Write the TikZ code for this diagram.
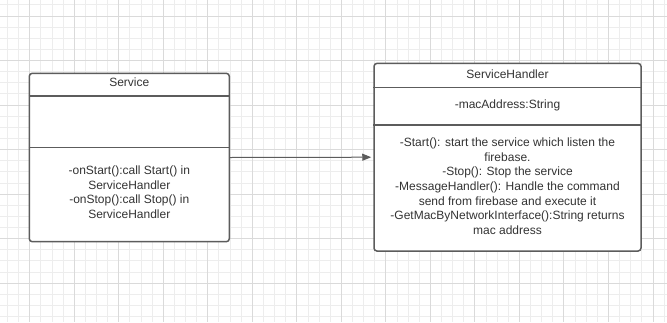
\documentclass[tikz,border=0pt]{standalone}
\usepackage{fontspec}
\setmainfont{Liberation Sans}
\usepackage{tikz}
\usetikzlibrary{arrows.meta}
\usetikzlibrary{calc}

\definecolor{boxline}{HTML}{5C5C5C}
\definecolor{boxtext}{HTML}{333333}
\definecolor{gridminor}{HTML}{EDEDED}
\definecolor{gridmajor}{HTML}{DADADA}

\begin{document}
\begin{tikzpicture}[
    x=1pt, y=-1pt,
    >=Stealth,
    umlbox/.style={draw=boxline, line width=1.5pt, fill=white, rounded corners=3pt, inner sep=0pt},
    divider/.style={draw=boxline, line width=1.5pt},
    umltext/.style={text=boxtext, font=\fontsize{12}{14.6}\selectfont, align=center, inner sep=0pt},
    assoc/.style={->, draw=boxline, line width=1pt, shorten >=2pt, >={Triangle[length=9pt, width=7pt]}}
]

% --- Background grid ---
\fill[white] (0,0) rectangle (667,322);
\useasboundingbox (0,0) rectangle (667,322);
\foreach \i in {0,...,59} {
    \draw[gridminor, line width=0.9pt] (7.44+11.13*\i, 0) -- (7.44+11.13*\i, 322);
}
\foreach \j in {0,...,28} {
    \draw[gridminor, line width=0.9pt] (0, 4.87+11.13*\j) -- (667, 4.87+11.13*\j);
}
\foreach \i in {-1,...,14} {
    \draw[gridmajor, line width=0.9pt] (29.7+44.52*\i, 0) -- (29.7+44.52*\i, 322);
}
\foreach \j in {0,...,6} {
    \draw[gridmajor, line width=0.9pt] (0, 16+44.52*\j) -- (667, 16+44.52*\j);
}

% --- Service class ---
\node[umlbox, minimum width=200pt, minimum height=168.4pt] (svc) at (129.3, 157.5) {};
\draw[divider] (svc.west |- 0, 96) -- (svc.east |- 0, 96);
\draw[divider] (svc.west |- 0, 147.3) -- (svc.east |- 0, 147.3);

\node[umltext] (svcname) at (129.3, 82.7) {Service};
\node[umltext] (svcops) at (129.3, 192.2) {-onStart():call Start() in\\ServiceHandler\\-onStop():call Stop() in\\ServiceHandler};

% --- ServiceHandler class ---
\node[umlbox, minimum width=267pt, minimum height=187.7pt] (hdl) at (507.5, 157.2) {};
\draw[divider] (hdl.west |- 0, 87.7) -- (hdl.east |- 0, 87.7);
\draw[divider] (hdl.west |- 0, 125) -- (hdl.east |- 0, 125);

\node[umltext] (hdlname) at (507.5, 74.3) {ServiceHandler};
\node[umltext] (hdlattr) at (507.5, 105) {-macAddress:String};
\node[umltext] (hdlops) at (507.5, 186.2) {-Start(): start the service which listen the\\firebase.\\-Stop(): Stop the service\\-MessageHandler(): Handle the command\\send from firebase and execute it\\-GetMacByNetworkInterface():String returns\\mac address};

% --- Association ---
\draw[assoc] (svc.east) -- (hdl.west);

\end{tikzpicture}
\end{document}
